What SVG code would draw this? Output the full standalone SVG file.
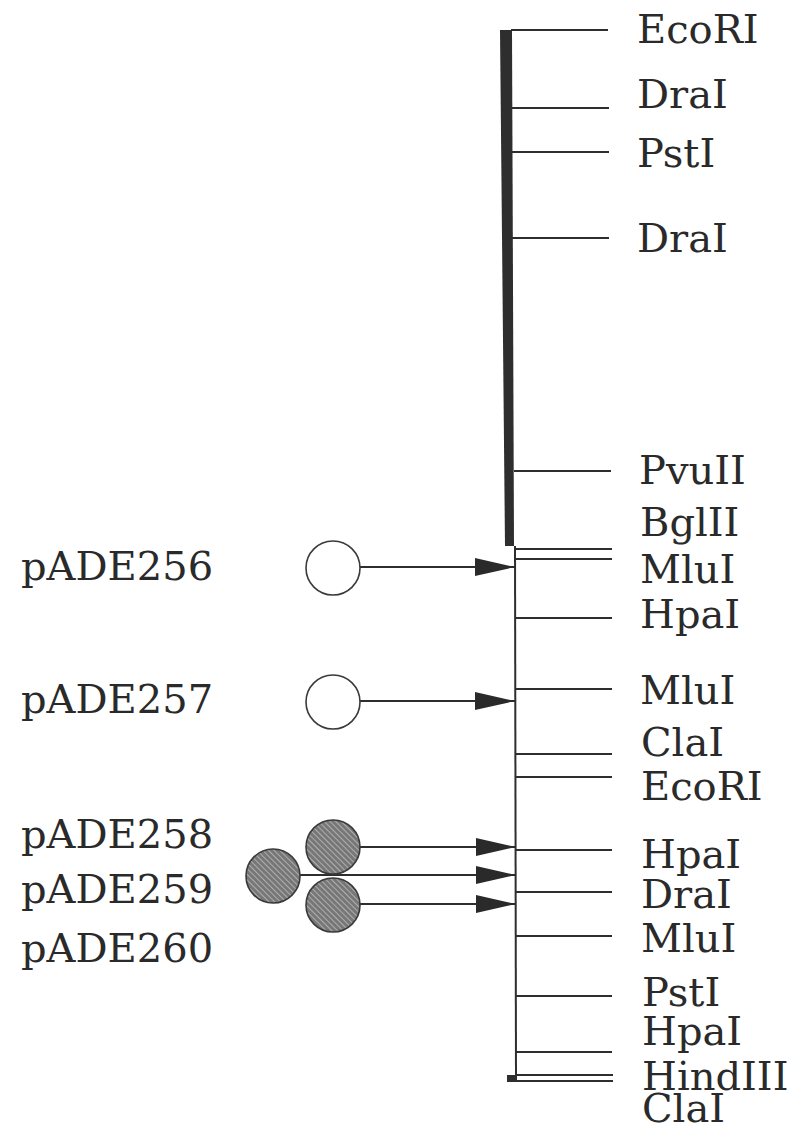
<svg xmlns="http://www.w3.org/2000/svg" width="798" height="1138" viewBox="0 0 798 1138">
  <defs>
    <style>
      .site { stroke: #2e2e2e; stroke-width: 2; fill: none; }
      .lbl { font-family: "DejaVu Serif", "Liberation Serif", serif; font-size: 40px; fill: #2a2a2a; }
      .conn { stroke: #2e2e2e; stroke-width: 2; fill: none; }
      .open { fill: #ffffff; stroke: #3a3a3a; stroke-width: 1.6; }
      .hatched { fill: url(#hatch); stroke: #3a3a3a; stroke-width: 1.6; }
    </style>
    <pattern id="hatch" patternUnits="userSpaceOnUse" width="4" height="4" patternTransform="rotate(-45)">
      <rect width="4" height="4" fill="#777777"/>
      <line x1="0" y1="0" x2="0" y2="4" stroke="#d4d4d4" stroke-width="1.2"/>
    </pattern>
    <marker id="arrow" markerUnits="userSpaceOnUse" markerWidth="40" markerHeight="18" refX="40" refY="9" orient="auto">
      <path d="M0,0 L40,9 L0,18 z" fill="#2a2a2a"/>
    </marker>
  </defs>

  <!-- restriction map backbone -->
  <g id="map">
    <polygon points="500,30 512,30 514,546 505,546" fill="#2e2e2e"/>
    <line x1="515" y1="546" x2="516" y2="1082" stroke="#2e2e2e" stroke-width="2"/>
    <rect x="507" y="1075" width="9" height="7" fill="#2e2e2e"/>
  </g>

  <!-- restriction sites -->
  <g id="sites">
    <line class="site" x1="511" y1="30" x2="608" y2="30"/>
    <line class="site" x1="512" y1="108" x2="609" y2="108"/>
    <line class="site" x1="512" y1="152" x2="609" y2="152"/>
    <line class="site" x1="512" y1="238" x2="609" y2="238"/>
    <line class="site" x1="514" y1="471" x2="611" y2="471"/>
    <line class="site" x1="515" y1="549" x2="612" y2="549"/>
    <line class="site" x1="515" y1="559" x2="612" y2="559"/>
    <line class="site" x1="515" y1="618" x2="612" y2="618"/>
    <line class="site" x1="515" y1="689" x2="612" y2="689"/>
    <line class="site" x1="516" y1="754" x2="612" y2="754"/>
    <line class="site" x1="516" y1="777" x2="612" y2="777"/>
    <line class="site" x1="516" y1="850" x2="612" y2="850"/>
    <line class="site" x1="516" y1="892" x2="612" y2="892"/>
    <line class="site" x1="516" y1="936" x2="612" y2="936"/>
    <line class="site" x1="516" y1="996" x2="612" y2="996"/>
    <line class="site" x1="516" y1="1052" x2="612" y2="1052"/>
    <line class="site" x1="516" y1="1075" x2="613" y2="1075"/>
    <line class="site" x1="516" y1="1081" x2="613" y2="1081"/>
  </g>

  <g id="site-labels">
    <text class="lbl" x="637" y="43">EcoRI</text>
    <text class="lbl" x="637" y="108">DraI</text>
    <text class="lbl" x="637" y="167">PstI</text>
    <text class="lbl" x="637" y="252">DraI</text>
    <text class="lbl" x="639" y="484">PvuII</text>
    <text class="lbl" x="640" y="536">BglII</text>
    <text class="lbl" x="640" y="583">MluI</text>
    <text class="lbl" x="640" y="628">HpaI</text>
    <text class="lbl" x="640" y="704">MluI</text>
    <text class="lbl" x="641" y="756">ClaI</text>
    <text class="lbl" x="641" y="800">EcoRI</text>
    <text class="lbl" x="641" y="868">HpaI</text>
    <text class="lbl" x="641" y="908">DraI</text>
    <text class="lbl" x="641" y="952">MluI</text>
    <text class="lbl" x="642" y="1006">PstI</text>
    <text class="lbl" x="642" y="1045">HpaI</text>
    <text class="lbl" x="642" y="1090">HindIII</text>
    <text class="lbl" x="642" y="1122">ClaI</text>
  </g>

  <!-- plasmid insertion points -->
  <g id="connectors">
    <line class="conn" x1="360" y1="567" x2="515" y2="567" marker-end="url(#arrow)"/>
    <line class="conn" x1="360" y1="701" x2="515" y2="701" marker-end="url(#arrow)"/>
    <line class="conn" x1="360" y1="847" x2="516" y2="847" marker-end="url(#arrow)"/>
    <line class="conn" x1="300" y1="875" x2="516" y2="875" marker-end="url(#arrow)"/>
    <line class="conn" x1="360" y1="904" x2="516" y2="904" marker-end="url(#arrow)"/>
  </g>

  <g id="pADE256">
    <circle class="open" cx="333" cy="568" r="27"/>
    <text class="lbl" x="21" y="580">pADE256</text>
  </g>
  <g id="pADE257">
    <circle class="open" cx="333" cy="702" r="27"/>
    <text class="lbl" x="21" y="713">pADE257</text>
  </g>
  <g id="pADE258">
    <circle class="hatched" cx="333" cy="847" r="27"/>
    <text class="lbl" x="21" y="848">pADE258</text>
  </g>
  <g id="pADE259">
    <circle class="hatched" cx="273" cy="876" r="27"/>
    <text class="lbl" x="21" y="903">pADE259</text>
  </g>
  <g id="pADE260">
    <circle class="hatched" cx="333" cy="905" r="27"/>
    <text class="lbl" x="21" y="962">pADE260</text>
  </g>
</svg>
